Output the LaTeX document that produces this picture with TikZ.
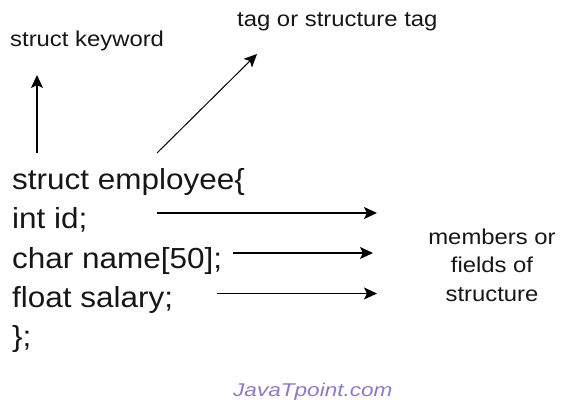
\documentclass[tikz,border=0pt]{standalone}
\usepackage{fontspec}
\usetikzlibrary{arrows.meta}
\newfontfamily\codefont[FakeStretch=1.085]{Liberation Sans}
\newfontfamily\lblfont[FakeStretch=1.11]{Liberation Sans}
\newfontfamily\wmfont[FakeStretch=1.22]{Liberation Sans}
\definecolor{txt}{RGB}{22,22,22}
\definecolor{wm}{RGB}{140,122,196}
\tikzset{
  codeline/.style={anchor=base west, inner sep=0pt, text=txt, font=\codefont\fontsize{29}{35}\selectfont},
  lbl/.style={inner sep=0pt, text=txt, font=\lblfont\fontsize{21.5}{28.5}\selectfont},
  arr/.style={draw=black, line width=1.4pt, -{Stealth[length=13pt,width=12pt,inset=3pt]}},
  thinarr/.style={draw=black, line width=1.0pt, -{Stealth[length=13pt,width=12pt,inset=3pt]}}
}
\begin{document}
\begin{tikzpicture}[x=1pt,y=-1pt]
\useasboundingbox (0,0) rectangle (561,404);
% code lines
\node[codeline] (l1) at (12,189) {struct employee\{};
\node[codeline] (l2) at (12,228.5) {int id;};
\node[codeline] (l3) at (12,268) {char name[50];};
\node[codeline] (l4) at (12,307) {float salary;};
\node[codeline] (l5) at (12,346) {\};};
% labels
\node[lbl, anchor=base west] (kw) at (10,47) {struct keyword};
\node[lbl, anchor=base west] (tag) at (237,27) {tag or structure tag};
\node[lbl, align=center, anchor=center] (mem) at (492,265) {members or\\fields of\\structure};
\node[anchor=base west, inner sep=0pt, text=wm, font=\wmfont\itshape\fontsize{18.5}{20}\selectfont] (wmk) at (233,396) {JavaTpoint.com};
% arrow end points
\coordinate (kwS) at (37,153);
\coordinate (kwT) at (37,75);
\coordinate (tagS) at (157,153);
\coordinate (tagT) at (257,54);
\coordinate (m1S) at (157,213);
\coordinate (m1T) at (377,213);
\coordinate (m2S) at (233,253);
\coordinate (m2T) at (373,253);
\coordinate (m3S) at (217,293.5);
\coordinate (m3T) at (377,293.5);
\draw[arr] (kwS) -- (kwT);
\draw[thinarr] (tagS) -- (tagT);
\draw[arr] (m1S) -- (m1T);
\draw[arr] (m2S) -- (m2T);
\draw[arr] (m3S) -- (m3T);
\end{tikzpicture}
\end{document}
